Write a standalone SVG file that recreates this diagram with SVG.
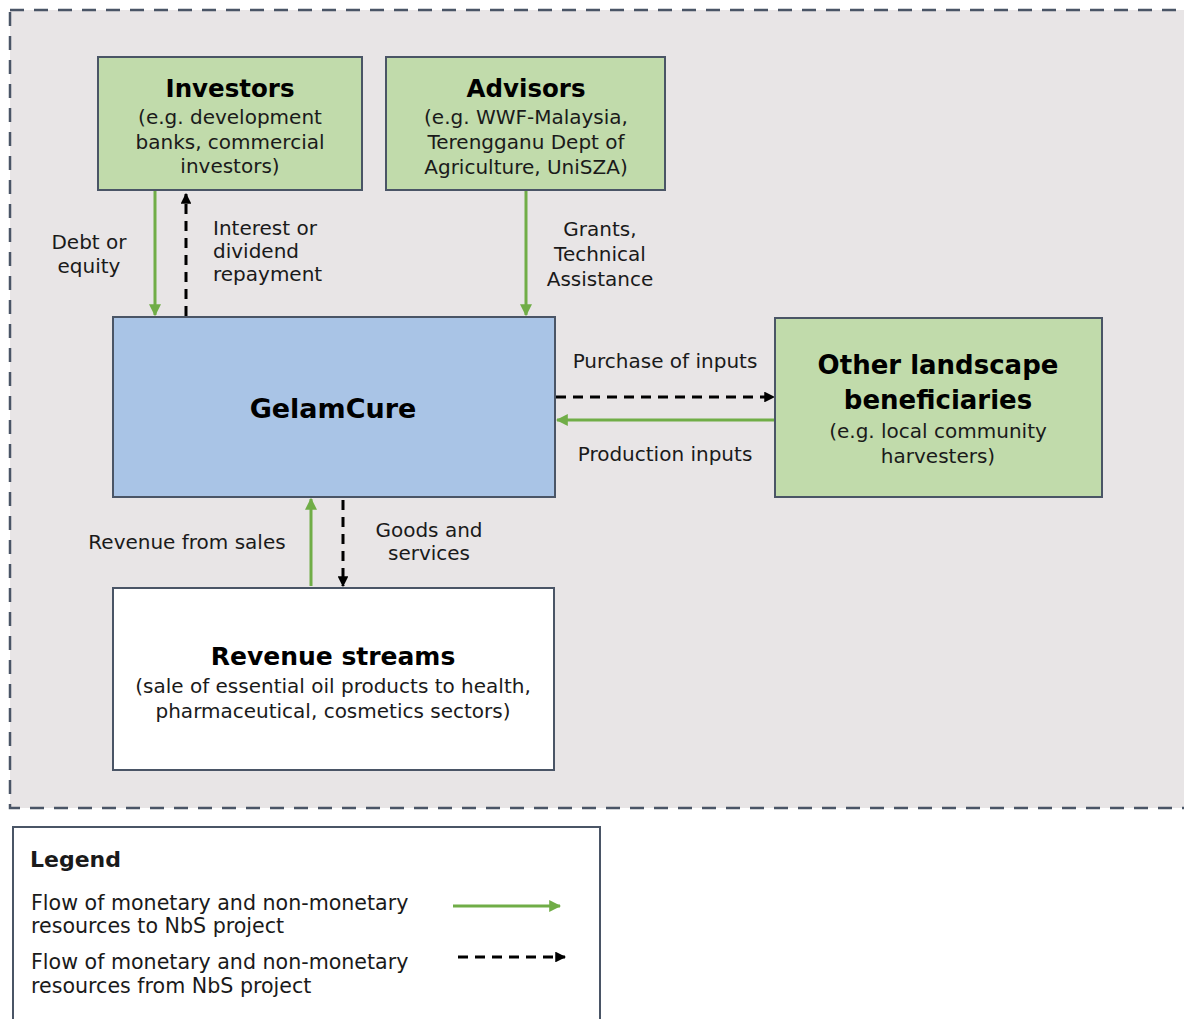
<svg xmlns="http://www.w3.org/2000/svg" width="1184" height="1019" viewBox="0 0 1184 1019">
<defs>
<marker id="ag" viewBox="0 0 10 10" refX="9" refY="5" markerWidth="4" markerHeight="4" orient="auto" markerUnits="strokeWidth"><path d="M0,0 L10,5 L0,10 z" fill="#70ad47"/></marker>
<marker id="ak" viewBox="0 0 10 10" refX="9" refY="5" markerWidth="3.6" markerHeight="3.6" orient="auto" markerUnits="strokeWidth"><path d="M0,0 L10,5 L0,10 z" fill="#000"/></marker>
<style>
text{font-family:"DejaVu Sans",sans-serif;fill:#1a1a1a;}
.t{font-weight:bold;text-anchor:middle;fill:#000;}
.s{font-size:20px;text-anchor:middle;}
.l{font-size:20px;}
.box{stroke:#4a5566;stroke-width:2;}
.g{fill:#c1dbab;}
.gl{stroke:#70ad47;stroke-width:3;fill:none;marker-end:url(#ag);}
.dl{stroke:#000;stroke-width:3;fill:none;stroke-dasharray:10 7;marker-end:url(#ak);}
</style>
</defs>
<rect x="0" y="0" width="1184" height="1019" fill="#ffffff"/>
<rect id="boundary" x="10" y="10" width="1190" height="798" fill="#e8e5e6" stroke="#4a5566" stroke-width="2.5" stroke-dasharray="14 10"/>

<g id="connectors">
<line class="gl" x1="155" y1="190" x2="155" y2="315"/>
<line class="dl" x1="186" y1="316" x2="186" y2="194"/>
<line class="gl" x1="526" y1="190" x2="526" y2="315"/>
<line class="dl" x1="556" y1="397" x2="774" y2="397"/>
<line class="gl" x1="775" y1="420" x2="557" y2="420"/>
<line class="gl" x1="311" y1="586" x2="311" y2="499"/>
<line class="dl" x1="343" y1="500" x2="343" y2="586"/>
<text class="s" x="89" y="249">Debt or</text>
<text class="s" x="89" y="273">equity</text>
<text class="l" x="213" y="235">Interest or</text>
<text class="l" x="213" y="258">dividend</text>
<text class="l" x="213" y="281">repayment</text>
<text class="s" x="600" y="236">Grants,</text>
<text class="s" x="600" y="261">Technical</text>
<text class="s" x="600" y="286">Assistance</text>
<text class="s" x="665" y="368">Purchase of inputs</text>
<text class="s" x="665" y="461">Production inputs</text>
<text class="s" x="187" y="549">Revenue from sales</text>
<text class="s" x="429" y="537">Goods and</text>
<text class="s" x="429" y="560">services</text>
</g>

<g id="investors">
<rect class="box g" x="98" y="57" width="264" height="133"/>
<text class="t" x="230" y="97" font-size="24.5">Investors</text>
<text class="s" x="230" y="124">(e.g. development</text>
<text class="s" x="230" y="149">banks, commercial</text>
<text class="s" x="230" y="173">investors)</text>
</g>

<g id="advisors">
<rect class="box g" x="386" y="57" width="279" height="133"/>
<text class="t" x="526" y="97" font-size="24.5">Advisors</text>
<text class="s" x="526" y="124">(e.g. WWF-Malaysia,</text>
<text class="s" x="526" y="149">Terengganu Dept of</text>
<text class="s" x="526" y="174">Agriculture, UniSZA)</text>
</g>

<g id="gelamcure">
<rect class="box" x="113" y="317" width="442" height="180" fill="#a9c4e6"/>
<text class="t" x="333" y="418" font-size="27">GelamCure</text>
</g>

<g id="other-landscape">
<rect class="box g" x="775" y="318" width="327" height="179"/>
<text class="t" x="938" y="374" font-size="26">Other landscape</text>
<text class="t" x="938" y="409" font-size="26">beneficiaries</text>
<text class="s" x="938" y="438">(e.g. local community</text>
<text class="s" x="938" y="463">harvesters)</text>
</g>

<g id="revenue-streams">
<rect class="box" x="113" y="588" width="441" height="182" fill="#ffffff"/>
<text class="t" x="333" y="665" font-size="25">Revenue streams</text>
<text class="s" x="333" y="693">(sale of essential oil products to health,</text>
<text class="s" x="333" y="718">pharmaceutical, cosmetics sectors)</text>
</g>

<g id="legend">
<rect class="box" x="13" y="827" width="587" height="210" fill="#ffffff"/>
<text x="30" y="867" font-size="22" font-weight="bold" fill="#000">Legend</text>
<text x="31" y="910" font-size="20.6">Flow of monetary and non-monetary</text>
<text x="31" y="933" font-size="20.6">resources to NbS project</text>
<text x="31" y="969" font-size="20.6">Flow of monetary and non-monetary</text>
<text x="31" y="993" font-size="20.6">resources from NbS project</text>
<line class="gl" x1="453" y1="906" x2="560" y2="906"/>
<line class="dl" x1="458" y1="957" x2="565" y2="957"/>
</g>
</svg>
